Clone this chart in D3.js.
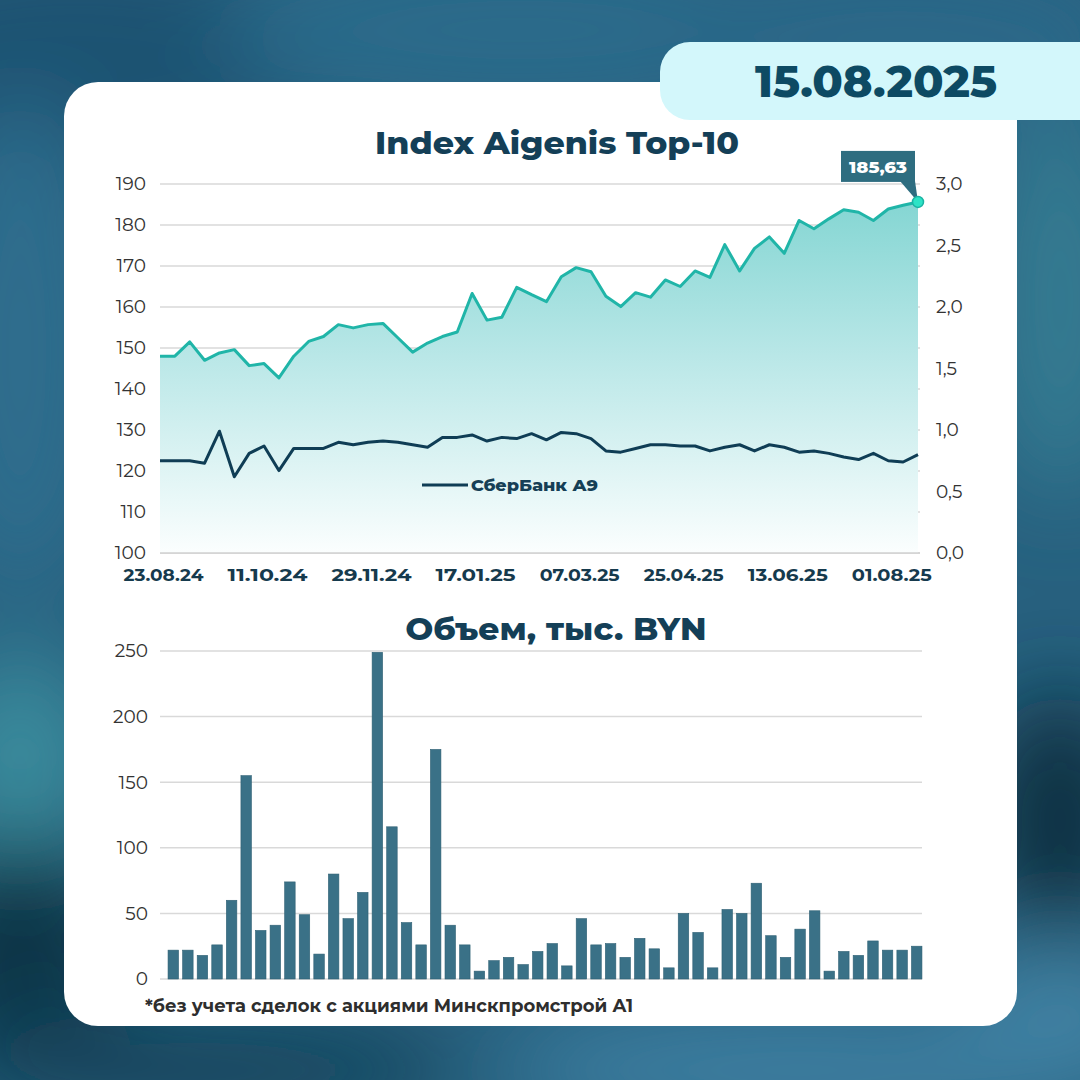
<!DOCTYPE html>
<html><head><meta charset="utf-8">
<script src="https://cdn.jsdelivr.net/npm/d3@7"></script>
<style>html,body{margin:0;padding:0;background:#2a6585;}svg{display:block;}</style>
</head><body>
<svg id="c" width="1080" height="1080"></svg>
<script>
// ---------- DATA ----------
const dates = ["23.08.24","30.08.24","06.09.24","13.09.24","20.09.24","27.09.24","04.10.24","11.10.24","18.10.24","25.10.24",
"01.11.24","08.11.24","15.11.24","22.11.24","29.11.24","06.12.24","13.12.24","20.12.24","27.12.24","03.01.25",
"10.01.25","17.01.25","24.01.25","31.01.25","07.02.25","14.02.25","21.02.25","28.02.25","07.03.25","14.03.25",
"21.03.25","28.03.25","04.04.25","11.04.25","18.04.25","25.04.25","02.05.25","09.05.25","16.05.25","23.05.25",
"30.05.25","06.06.25","13.06.25","20.06.25","27.06.25","04.07.25","11.07.25","18.07.25","25.07.25","01.08.25",
"08.08.25","15.08.25"];
const xTickLabels = ["23.08.24","11.10.24","29.11.24","17.01.25","07.03.25","25.04.25","13.06.25","01.08.25"];
const indexValues = [148,148,151.5,147,148.8,149.6,145.7,146.2,142.7,148,
151.6,152.8,155.7,154.9,155.7,156.0,152.5,149.0,151.2,152.8,
153.9,163.3,156.8,157.5,164.8,163,161.3,167.4,169.6,168.6,
162.6,160.1,163.5,162.4,166.6,165,168.8,167.2,175.2,168.8,
174.3,177.1,173.1,181.1,179.1,181.5,183.7,183.1,181.1,183.9,
184.8,185.63];
const sberValues = [0.75,0.75,0.75,0.73,0.99,0.62,0.81,0.87,0.67,0.85,
0.85,0.85,0.90,0.88,0.90,0.91,0.90,0.88,0.86,0.94,
0.94,0.96,0.91,0.94,0.93,0.97,0.92,0.98,0.97,0.93,
0.83,0.82,0.85,0.88,0.88,0.87,0.87,0.83,0.86,0.88,
0.83,0.88,0.86,0.82,0.83,0.81,0.78,0.76,0.81,0.75,
0.74,0.80];
const volumeValues = [22,22,18,26,60,155,37,41,74,49,
19,80,46,66,249,116,43,26,175,41,
26,6,14,16.5,11,21,27,10,46,26,
27,16.5,31,23,8.5,50,35.5,8.5,53,50,
73,33,16.5,38,52,6,21,18,29,22,
22,25];
const leftTicks = [100,110,120,130,140,150,160,170,180,190];
const rightTicks = [0,0.5,1,1.5,2,2.5,3];
const volTicks = [0,50,100,150,200,250];
const lastLabel = "185,63";
const dateTitle = "15.08.2025";
const title1 = "Index Aigenis Top-10";
const title2 = "Объем, тыс. BYN";
const legendLabel = "СберБанк А9";
const footnote = "*без учета сделок с акциями Минскпромстрой А1";

// ---------- DRAW ----------
const FONT = "Montserrat, Inter, 'Open Sans', sans-serif";
const svg = d3.select("#c");
const defs = svg.append("defs");

// background
const blur = defs.append("filter").attr("id","blur").attr("x","-50%").attr("y","-50%").attr("width","200%").attr("height","200%");
blur.append("feGaussianBlur").attr("stdDeviation",45);
svg.append("rect").attr("width",1080).attr("height",1080).attr("fill","#27617f");
const bg = svg.append("g").attr("filter","url(#blur)");
const blobs = [
  {cx:80,cy:60,rx:260,ry:120,c:"#1d5272"},
  {cx:520,cy:30,rx:300,ry:90,c:"#2c6a8a"},
  {cx:900,cy:40,rx:240,ry:90,c:"#2b6788"},
  {cx:20,cy:350,rx:90,ry:250,c:"#2f6d8d"},
  {cx:20,cy:760,rx:80,ry:110,c:"#3b8b9c"},
  {cx:20,cy:960,rx:110,ry:120,c:"#0f3447"},
  {cx:1060,cy:300,rx:70,ry:200,c:"#357b92"},
  {cx:1060,cy:820,rx:80,ry:130,c:"#0f3142"},
  {cx:1060,cy:1020,rx:110,ry:80,c:"#3f81a2"},
  {cx:200,cy:1070,rx:260,ry:60,c:"#17465f"},
  {cx:800,cy:1070,rx:300,ry:60,c:"#3e7fa1"}
];
blobs.forEach(b=>bg.append("ellipse").attr("cx",b.cx).attr("cy",b.cy).attr("rx",b.rx).attr("ry",b.ry).attr("fill",b.c));

// card
svg.append("rect").attr("x",64).attr("y",82).attr("width",953).attr("height",944).attr("rx",34).attr("fill","#ffffff");

// date pill
svg.append("rect").attr("x",660).attr("y",42).attr("width",480).attr("height",78).attr("rx",30).attr("fill","#d3f7fb");
svg.append("text").attr("x",876).attr("y",97).attr("text-anchor","middle")
  .attr("font-family",FONT).attr("font-weight",800).attr("font-size",43).attr("fill","#0d4a63")
  .attr("textLength",242).attr("lengthAdjust","spacingAndGlyphs").text(dateTitle);

// titles
svg.append("text").attr("x",557).attr("y",154).attr("text-anchor","middle")
  .attr("font-family",FONT).attr("font-weight",800).attr("font-size",31).attr("fill","#143f57")
  .attr("textLength",364).attr("lengthAdjust","spacingAndGlyphs").text(title1);
svg.append("text").attr("x",556).attr("y",640).attr("text-anchor","middle")
  .attr("font-family",FONT).attr("font-weight",800).attr("font-size",31).attr("fill","#143f57")
  .attr("textLength",301).attr("lengthAdjust","spacingAndGlyphs").text(title2);

// ---------- TOP CHART ----------
const x = d3.scalePoint().domain(dates).range([160,918]);
const yL = d3.scaleLinear().domain([100,190]).range([553,184]);
const yR = d3.scaleLinear().domain([0,3]).range([553,184]);

const grad = defs.append("linearGradient").attr("id","areaGrad").attr("gradientUnits","userSpaceOnUse")
  .attr("x1",0).attr("x2",0).attr("y1",195).attr("y2",553);
grad.append("stop").attr("offset",0).attr("stop-color","#82d5d2");
grad.append("stop").attr("offset",0.45).attr("stop-color","#b9e7e7");
grad.append("stop").attr("offset",1).attr("stop-color","#fbfefe");

// grid
const gTop = svg.append("g");
gTop.selectAll("line.grid").data(leftTicks).join("line")
  .attr("x1",160).attr("x2",920).attr("y1",d=>yL(d)).attr("y2",d=>yL(d))
  .attr("stroke","#d9d9d9").attr("stroke-width",1.5);

// area
gTop.append("path").datum(indexValues)
  .attr("d",d3.area().x((d,i)=>x(dates[i])).y0(yL(100)).y1(d=>yL(d)))
  .attr("fill","url(#areaGrad)");
gTop.append("line").attr("x1",160).attr("x2",920).attr("y1",yL(100)).attr("y2",yL(100)).attr("stroke","#d0d0d0").attr("stroke-width",1.5);

// index line
gTop.append("path").datum(indexValues)
  .attr("d",d3.line().x((d,i)=>x(dates[i])).y(d=>yL(d)))
  .attr("fill","none").attr("stroke","#20b5a8").attr("stroke-width",3).attr("stroke-linejoin","round");
// sber line
gTop.append("path").datum(sberValues)
  .attr("d",d3.line().x((d,i)=>x(dates[i])).y(d=>yR(d)))
  .attr("fill","none").attr("stroke","#0f3d55").attr("stroke-width",3).attr("stroke-linejoin","round");

// axes
const axL = d3.axisLeft(yL).tickValues(leftTicks).tickSize(0).tickPadding(0).tickFormat(d3.format("d"));
const gL = svg.append("g").attr("transform","translate(146,0)").call(axL);
const axR = d3.axisRight(yR).tickValues(rightTicks).tickSize(0).tickPadding(0).tickFormat(d=>d3.format(".1f")(d).replace(".",","));
const gR = svg.append("g").attr("transform","translate(936,0)").call(axR);
const axX = d3.axisBottom(x).tickValues(xTickLabels).tickSize(0).tickPadding(0);
const gX = svg.append("g").attr("transform","translate(3,569)").call(axX);
[gL,gR,gX].forEach(g=>{ g.select(".domain").remove(); });
[gL,gR].forEach(g=>g.selectAll("text").attr("font-family",FONT).attr("font-size",18.5).attr("fill","#333"));
gX.selectAll("text").attr("font-family",FONT).attr("font-size",16.5).attr("font-weight",700).attr("fill","#163a4d")
  .attr("textLength",80).attr("lengthAdjust","spacingAndGlyphs");

// last point label
const lx = x(dates[dates.length-1]), ly = yL(indexValues[indexValues.length-1]);
svg.append("path").attr("d",`M${lx-18},${ly-21} L${lx-3},${ly-21} L${lx},${ly} Z`).attr("fill","#2e6d80");
svg.append("rect").attr("x",lx-77).attr("y",ly-51).attr("width",74).attr("height",31).attr("fill","#2e6d80");
svg.append("text").attr("x",lx-40).attr("y",ly-29).attr("text-anchor","middle")
  .attr("font-family",FONT).attr("font-weight",800).attr("font-size",17).attr("fill","#ffffff")
  .attr("textLength",58).attr("lengthAdjust","spacingAndGlyphs").text(lastLabel);
svg.append("circle").attr("cx",lx).attr("cy",ly).attr("r",5.5).attr("fill","#2de3c6").attr("stroke","#1bb3a3").attr("stroke-width",1.5);

// legend
svg.append("line").attr("x1",422).attr("x2",468).attr("y1",485).attr("y2",485).attr("stroke","#0f3d55").attr("stroke-width",3);
svg.append("text").attr("x",471).attr("y",491).attr("font-family",FONT).attr("font-weight",800).attr("font-size",17)
  .attr("fill","#163f56").attr("textLength",127).attr("lengthAdjust","spacingAndGlyphs").text(legendLabel);

// ---------- BOTTOM CHART ----------
const xb = d3.scaleBand().domain(dates).range([166,924]).paddingInner(0.28).paddingOuter(0.14);
const yb = d3.scaleLinear().domain([0,250]).range([979,651]);
const gB = svg.append("g");
gB.selectAll("line").data(volTicks).join("line")
  .attr("x1",160).attr("x2",922).attr("y1",d=>yb(d)).attr("y2",d=>yb(d))
  .attr("stroke","#d9d9d9").attr("stroke-width",1.5);
gB.selectAll("rect").data(volumeValues).join("rect")
  .attr("x",(d,i)=>xb(dates[i])).attr("width",xb.bandwidth())
  .attr("y",d=>yb(d)).attr("height",d=>yb(0)-yb(d))
  .attr("fill","#3a7187").attr("stroke","#2f6074").attr("stroke-width",0.6);
const axB = d3.axisLeft(yb).tickValues(volTicks).tickSize(0).tickPadding(0);
const gBL = svg.append("g").attr("transform","translate(148,0)").call(axB);
gBL.select(".domain").remove();
gBL.selectAll("text").attr("font-family",FONT).attr("font-size",18.5).attr("fill","#333");

// footnote
svg.append("text").attr("x",145).attr("y",1012).attr("font-family",FONT).attr("font-weight",700).attr("font-size",17.5)
  .attr("fill","#2e2e2e").attr("textLength",488).attr("lengthAdjust","spacingAndGlyphs").text(footnote);
</script>
</body></html>
